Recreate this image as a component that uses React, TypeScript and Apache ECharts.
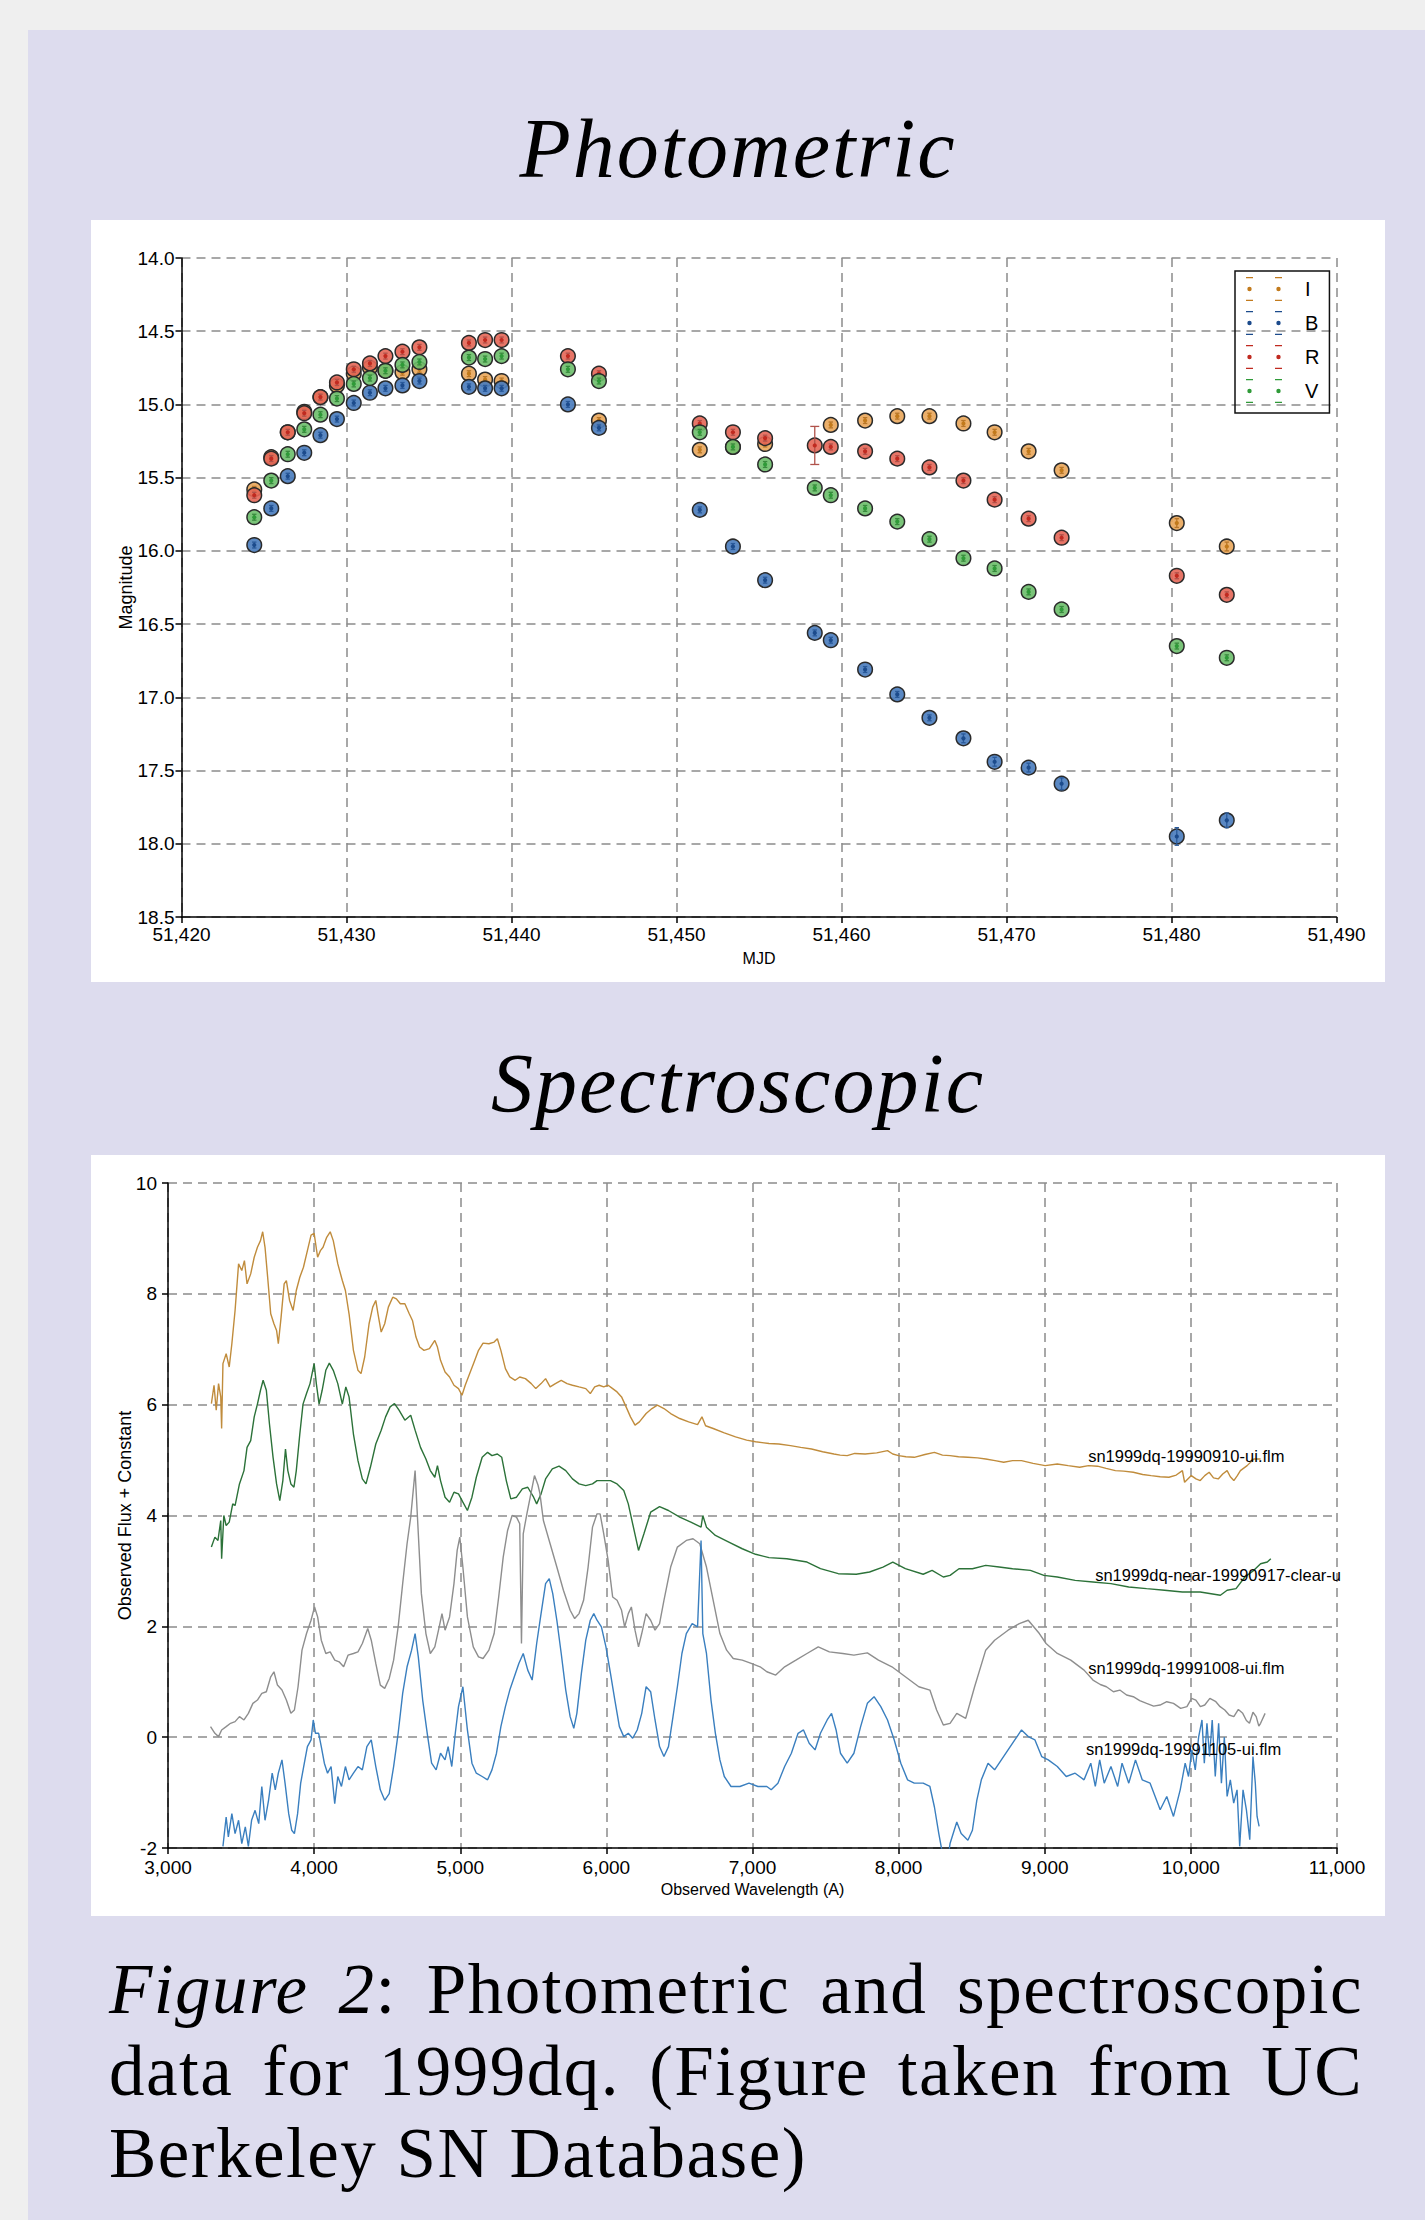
import React, { useEffect, useRef } from 'react';
import * as echarts from 'echarts';

const FONT = '"Liberation Sans", Arial, Helvetica, sans-serif';
const SERIF = '"Liberation Serif", "Times New Roman", Times, serif';

// ---------------- Photometric data ----------------
const BANDS = ['I', 'B', 'R', 'V'];

const I_MJD = [51424.41, 51425.44, 51426.44, 51427.44, 51428.42, 51429.42, 51430.44, 51431.42, 51432.36, 51433.39, 51434.42, 51437.42, 51438.4, 51439.4, 51445.3, 51451.41, 51453.42, 51455.37, 51459.35, 51461.43, 51463.38, 51465.33, 51467.39, 51469.28, 51471.34, 51473.34, 51480.32, 51483.35];
const I_MAG = [15.58, 15.36, 15.19, 15.05, 14.95, 14.87, 14.79, 14.75, 14.77, 14.78, 14.76, 14.79, 14.83, 14.84, 15.11, 15.31, 15.29, 15.27, 15.14, 15.11, 15.08, 15.08, 15.13, 15.19, 15.32, 15.45, 15.81, 15.97];
const I_ERR = [0.02, 0.02, 0.02, 0.02, 0.02, 0.02, 0.02, 0.02, 0.02, 0.02, 0.02, 0.02, 0.02, 0.02, 0.02, 0.02, 0.02, 0.02, 0.02, 0.02, 0.02, 0.02, 0.02, 0.02, 0.02, 0.02, 0.03, 0.03];

const B_MJD = [51424.41, 51425.44, 51426.44, 51427.44, 51428.42, 51429.42, 51430.44, 51431.42, 51432.36, 51433.39, 51434.42, 51437.42, 51438.4, 51439.4, 51443.42, 51445.3, 51451.41, 51453.42, 51455.37, 51458.38, 51459.35, 51461.43, 51463.38, 51465.33, 51467.39, 51469.28, 51471.34, 51473.34, 51480.32, 51483.35];
const B_MAG = [15.96, 15.71, 15.49, 15.33, 15.21, 15.1, 14.99, 14.92, 14.89, 14.87, 14.84, 14.88, 14.89, 14.89, 15.0, 15.16, 15.72, 15.97, 16.2, 16.56, 16.61, 16.81, 16.98, 17.14, 17.28, 17.44, 17.48, 17.59, 17.95, 17.84];
const B_ERR = [0.02, 0.02, 0.02, 0.02, 0.02, 0.02, 0.02, 0.02, 0.02, 0.02, 0.02, 0.02, 0.02, 0.02, 0.02, 0.02, 0.02, 0.02, 0.02, 0.02, 0.02, 0.02, 0.02, 0.02, 0.03, 0.03, 0.03, 0.04, 0.06, 0.05];

const R_MJD = [51424.41, 51425.44, 51426.44, 51427.44, 51428.42, 51429.42, 51430.44, 51431.42, 51432.36, 51433.39, 51434.42, 51437.42, 51438.4, 51439.4, 51443.42, 51445.3, 51451.41, 51453.42, 51455.37, 51458.38, 51459.35, 51461.43, 51463.38, 51465.33, 51467.39, 51469.28, 51471.34, 51473.34, 51480.32, 51483.35];
const R_MAG = [15.62, 15.37, 15.19, 15.06, 14.95, 14.85, 14.76, 14.72, 14.67, 14.64, 14.61, 14.58, 14.56, 14.56, 14.67, 14.79, 15.13, 15.19, 15.23, 15.28, 15.29, 15.32, 15.37, 15.43, 15.52, 15.65, 15.78, 15.91, 16.17, 16.3];
const R_ERR = [0.02, 0.02, 0.02, 0.02, 0.02, 0.02, 0.02, 0.02, 0.02, 0.02, 0.02, 0.02, 0.02, 0.02, 0.02, 0.02, 0.02, 0.02, 0.02, 0.13, 0.02, 0.02, 0.02, 0.02, 0.02, 0.02, 0.02, 0.02, 0.02, 0.02];

const V_MJD = [51424.41, 51425.44, 51426.44, 51427.44, 51428.42, 51429.42, 51430.44, 51431.42, 51432.36, 51433.39, 51434.42, 51437.42, 51438.4, 51439.4, 51443.42, 51445.3, 51451.41, 51453.42, 51455.37, 51458.38, 51459.35, 51461.43, 51463.38, 51465.33, 51467.39, 51469.28, 51471.34, 51473.34, 51480.32, 51483.35];
const V_MAG = [15.77, 15.52, 15.34, 15.17, 15.07, 14.96, 14.86, 14.82, 14.77, 14.73, 14.71, 14.68, 14.69, 14.67, 14.76, 14.84, 15.19, 15.29, 15.41, 15.57, 15.62, 15.71, 15.8, 15.92, 16.05, 16.12, 16.28, 16.4, 16.65, 16.73];
const V_ERR = [0.02, 0.02, 0.02, 0.02, 0.02, 0.02, 0.02, 0.02, 0.02, 0.02, 0.02, 0.02, 0.02, 0.02, 0.02, 0.02, 0.02, 0.02, 0.02, 0.02, 0.02, 0.02, 0.02, 0.02, 0.02, 0.02, 0.02, 0.02, 0.02, 0.02];

const MJD_TICKS = { min: 51420, max: 51490, interval: 10 };
const MAG_TICKS = { min: 14, max: 18.5, interval: 0.5 };

// ---------------- Spectroscopic data ----------------
const SPEC_NAMES = ['sn1999dq-19990910-ui.flm', 'sn1999dq-near-19990917-clear-u', 'sn1999dq-19991008-ui.flm', 'sn1999dq-19991105-ui.flm'];
const SPEC_LABEL_AT: [number, number][] = [[9297, 5.07], [9345, 2.93], [9297, 1.25], [9283, -0.21]];

const SPEC_0910: [number, number][] = [[3297,6.02],[3315,6.35],[3330,5.9],[3346,6.38],[3361,6.14],[3367,5.57],[3376,6.74],[3398,6.92],[3419,6.68],[3437,7.1],[3459,7.7],[3483,8.54],[3505,8.42],[3523,8.6],[3541,8.18],[3566,8.36],[3590,8.66],[3612,8.84],[3633,8.96],[3648,9.12],[3664,8.84],[3682,8.3],[3703,7.64],[3725,7.46],[3743,7.34],[3755,7.1],[3774,7.58],[3795,8.18],[3810,8.24],[3832,7.88],[3856,7.7],[3878,8.06],[3902,8.3],[3927,8.48],[3954,8.78],[3979,9.06],[4000,9.09],[4024,8.66],[4043,8.78],[4061,8.84],[4086,9.02],[4110,9.12],[4131,8.96],[4162,8.54],[4193,8.24],[4214,8.06],[4239,7.64],[4269,6.98],[4300,6.62],[4321,6.56],[4346,6.86],[4376,7.46],[4401,7.76],[4422,7.88],[4437,7.64],[4459,7.31],[4483,7.46],[4508,7.76],[4538,7.94],[4563,7.91],[4590,7.82],[4621,7.82],[4651,7.64],[4673,7.52],[4697,7.22],[4722,7.04],[4752,6.98],[4789,7.01],[4826,7.16],[4844,7.04],[4865,6.8],[4896,6.59],[4927,6.5],[4957,6.35],[4988,6.29],[5012,6.17],[5034,6.35],[5064,6.56],[5095,6.77],[5125,6.98],[5156,7.11],[5196,7.1],[5232,7.13],[5254,7.19],[5278,6.98],[5309,6.65],[5339,6.5],[5376,6.44],[5407,6.5],[5446,6.47],[5486,6.38],[5517,6.29],[5553,6.38],[5584,6.47],[5615,6.32],[5651,6.38],[5691,6.44],[5731,6.38],[5768,6.35],[5813,6.32],[5859,6.29],[5890,6.2],[5920,6.32],[5951,6.35],[5982,6.32],[6012,6.35],[6043,6.29],[6073,6.23],[6104,6.14],[6135,5.96],[6165,5.78],[6196,5.63],[6226,5.69],[6272,5.84],[6312,5.93],[6349,5.99],[6394,5.93],[6440,5.84],[6502,5.75],[6563,5.69],[6624,5.64],[6654,5.78],[6679,5.62],[6731,5.57],[6807,5.49],[6884,5.42],[6960,5.36],[7021,5.33],[7113,5.3],[7180,5.29],[7260,5.26],[7330,5.23],[7404,5.2],[7480,5.15],[7557,5.11],[7600,5.09],[7648,5.08],[7700,5.12],[7771,5.11],[7850,5.13],[7924,5.17],[7960,5.11],[8000,5.08],[8050,5.06],[8107,5.05],[8180,5.1],[8245,5.14],[8300,5.09],[8352,5.08],[8410,5.06],[8474,5.05],[8540,5.04],[8596,5.02],[8660,4.99],[8719,4.96],[8780,4.99],[8841,4.99],[8920,4.94],[9003,4.9],[9086,4.93],[9160,4.9],[9239,4.87],[9300,4.9],[9361,4.89],[9420,4.85],[9483,4.81],[9540,4.8],[9606,4.78],[9670,4.74],[9728,4.72],[9790,4.7],[9850,4.69],[9900,4.73],[9942,4.81],[9957,4.6],[10003,4.72],[10035,4.66],[10064,4.63],[10095,4.72],[10125,4.78],[10155,4.68],[10187,4.66],[10218,4.75],[10248,4.81],[10270,4.7],[10294,4.63],[10318,4.72],[10339,4.81],[10385,4.9],[10431,5.02],[10477,5.02]];

const SPEC_0917: [number, number][] = [[3297,3.43],[3321,3.61],[3342,3.55],[3361,3.91],[3367,3.22],[3382,4.0],[3398,3.82],[3419,3.88],[3443,4.21],[3459,4.18],[3489,4.57],[3520,4.81],[3541,5.23],[3566,5.35],[3590,5.78],[3612,6.01],[3633,6.26],[3651,6.44],[3673,6.26],[3694,5.66],[3719,5.05],[3743,4.57],[3765,4.27],[3786,4.63],[3804,5.2],[3820,4.81],[3841,4.57],[3862,4.51],[3878,4.81],[3902,5.47],[3924,6.01],[3948,6.2],[3972,6.38],[4000,6.74],[4015,6.38],[4034,6.01],[4055,6.26],[4080,6.62],[4104,6.75],[4131,6.62],[4162,6.38],[4193,6.01],[4217,6.32],[4239,6.14],[4269,5.47],[4300,4.99],[4330,4.66],[4355,4.57],[4385,4.87],[4422,5.29],[4459,5.54],[4489,5.78],[4520,5.96],[4550,6.02],[4581,5.9],[4621,5.72],[4661,5.81],[4691,5.54],[4728,5.23],[4765,5.02],[4795,4.81],[4826,4.69],[4844,4.9],[4865,4.63],[4896,4.33],[4927,4.24],[4957,4.42],[4988,4.39],[5018,4.24],[5049,4.09],[5080,4.33],[5110,4.69],[5150,5.05],[5187,5.14],[5217,5.08],[5254,5.11],[5284,5.05],[5315,4.63],[5346,4.3],[5385,4.33],[5425,4.48],[5462,4.51],[5502,4.33],[5523,4.21],[5553,4.39],[5584,4.66],[5630,4.84],[5676,4.89],[5722,4.81],[5768,4.66],[5813,4.57],[5859,4.54],[5905,4.57],[5936,4.63],[5982,4.63],[6028,4.63],[6073,4.57],[6119,4.45],[6150,4.21],[6180,3.85],[6220,3.37],[6257,3.67],[6303,4.06],[6364,4.16],[6425,4.09],[6502,3.97],[6578,3.88],[6648,3.79],[6660,4.0],[6685,3.79],[6746,3.64],[6838,3.52],[6930,3.4],[7021,3.3],[7113,3.24],[7235,3.22],[7373,3.16],[7465,3.04],[7587,2.95],[7710,2.94],[7801,2.98],[7893,3.07],[7960,3.16],[8046,3.04],[8168,2.94],[8229,3.01],[8306,2.89],[8352,2.92],[8413,3.04],[8505,3.04],[8596,3.1],[8688,3.07],[8780,3.04],[8902,3.01],[8994,2.92],[9086,2.89],[9208,2.83],[9330,2.8],[9453,2.77],[9575,2.71],[9697,2.68],[9820,2.65],[9942,2.62],[10064,2.62],[10202,2.56],[10248,2.65],[10309,2.68],[10370,2.89],[10431,3.01],[10477,3.13],[10523,3.16],[10547,3.22]];

const SPEC_1008: [number, number][] = [[3291,0.19],[3321,0.07],[3346,0.01],[3367,0.13],[3398,0.19],[3428,0.25],[3459,0.28],[3489,0.37],[3520,0.31],[3550,0.43],[3581,0.61],[3612,0.67],[3642,0.79],[3673,0.82],[3703,1.09],[3725,1.18],[3749,0.94],[3780,0.85],[3810,0.67],[3841,0.43],[3865,0.49],[3890,0.91],[3917,1.57],[3948,1.87],[3979,2.11],[4003,2.35],[4024,2.17],[4049,1.75],[4080,1.51],[4110,1.54],[4141,1.39],[4171,1.36],[4202,1.27],[4232,1.48],[4269,1.51],[4300,1.54],[4330,1.69],[4367,1.96],[4391,1.75],[4422,1.33],[4453,0.94],[4483,0.88],[4514,1.06],[4544,1.39],[4575,1.99],[4606,2.77],[4636,3.49],[4661,3.97],[4691,4.81],[4713,3.67],[4734,2.59],[4765,1.87],[4795,1.51],[4826,1.63],[4856,1.99],[4875,2.23],[4896,1.93],[4927,2.17],[4957,2.77],[4979,3.37],[4997,3.61],[5018,3.07],[5049,2.17],[5089,1.63],[5125,1.45],[5156,1.42],[5196,1.57],[5232,1.87],[5263,2.53],[5294,3.25],[5324,3.73],[5355,4.0],[5385,3.97],[5407,3.85],[5419,1.69],[5431,3.67],[5456,4.03],[5508,4.72],[5532,4.55],[5545,4.4],[5569,3.91],[5615,3.49],[5661,3.07],[5706,2.65],[5752,2.29],[5783,2.14],[5813,2.23],[5844,2.47],[5875,3.07],[5905,3.79],[5936,4.03],[5957,4.03],[5982,3.67],[6012,3.19],[6043,2.53],[6073,2.47],[6104,2.29],[6125,1.99],[6150,2.23],[6171,2.35],[6196,1.93],[6220,1.63],[6242,1.87],[6272,2.23],[6303,2.11],[6333,1.93],[6364,2.05],[6394,2.47],[6440,3.07],[6486,3.43],[6547,3.55],[6593,3.58],[6639,3.49],[6685,3.07],[6731,2.47],[6777,1.87],[6823,1.57],[6868,1.42],[6930,1.39],[6991,1.33],[7052,1.27],[7098,1.18],[7159,1.12],[7220,1.27],[7297,1.39],[7373,1.51],[7450,1.63],[7526,1.54],[7618,1.51],[7694,1.48],[7786,1.52],[7862,1.39],[7954,1.27],[8046,1.09],[8138,0.91],[8214,0.85],[8260,0.49],[8306,0.22],[8352,0.25],[8398,0.43],[8459,0.34],[8520,0.91],[8596,1.57],[8657,1.75],[8749,1.93],[8826,2.05],[8887,2.11],[8963,1.87],[9009,1.69],[9086,1.51],[9178,1.39],[9269,1.21],[9330,1.03],[9380,0.95],[9422,0.91],[9470,0.82],[9514,0.85],[9560,0.76],[9606,0.73],[9650,0.66],[9697,0.61],[9745,0.56],[9789,0.58],[9835,0.64],[9881,0.61],[9930,0.52],[9973,0.55],[10005,0.7],[10034,0.67],[10065,0.55],[10095,0.58],[10130,0.7],[10171,0.64],[10200,0.55],[10232,0.49],[10262,0.4],[10294,0.37],[10325,0.5],[10355,0.43],[10380,0.3],[10401,0.25],[10425,0.45],[10447,0.37],[10465,0.2],[10477,0.25],[10508,0.43]];

const SPEC_1105: [number, number][] = [[3376,-1.97],[3398,-1.44],[3413,-1.8],[3437,-1.38],[3459,-1.74],[3483,-1.5],[3505,-1.92],[3529,-1.62],[3550,-1.97],[3572,-1.5],[3596,-1.32],[3621,-1.56],[3642,-0.89],[3664,-1.5],[3688,-1.14],[3713,-0.65],[3734,-0.95],[3755,-0.65],[3780,-0.41],[3801,-0.83],[3826,-1.38],[3847,-1.68],[3865,-1.74],[3887,-1.38],[3908,-0.83],[3933,-0.47],[3954,-0.17],[3979,-0.05],[3994,0.31],[4009,0.07],[4031,0.07],[4049,-0.17],[4070,-0.47],[4092,-0.65],[4116,-0.53],[4141,-1.2],[4162,-0.71],[4187,-0.89],[4214,-0.53],[4239,-0.77],[4269,-0.65],[4300,-0.53],[4330,-0.59],[4361,-0.17],[4391,-0.05],[4422,-0.53],[4453,-0.95],[4483,-1.14],[4514,-1.02],[4544,-0.53],[4575,0.07],[4606,0.79],[4636,1.27],[4667,1.57],[4691,1.87],[4713,1.45],[4743,0.67],[4774,0.07],[4804,-0.47],[4835,-0.59],[4865,-0.29],[4896,-0.41],[4917,-0.17],[4942,-0.53],[4966,0.07],[4988,0.55],[5018,0.91],[5049,0.13],[5080,-0.47],[5110,-0.65],[5150,-0.71],[5187,-0.77],[5217,-0.59],[5248,-0.29],[5278,0.19],[5309,0.55],[5339,0.85],[5370,1.09],[5401,1.33],[5431,1.51],[5462,1.21],[5492,1.03],[5523,1.69],[5553,2.23],[5584,2.77],[5609,2.86],[5633,2.59],[5661,2.11],[5691,1.51],[5722,0.85],[5752,0.37],[5777,0.16],[5798,0.43],[5829,1.15],[5859,1.75],[5890,2.11],[5914,2.23],[5936,2.11],[5966,1.99],[5997,1.63],[6028,1.15],[6058,0.67],[6089,0.19],[6119,0.01],[6150,0.07],[6180,-0.02],[6211,0.13],[6242,0.43],[6272,0.91],[6303,0.82],[6333,0.31],[6364,-0.17],[6394,-0.35],[6425,-0.17],[6456,0.37],[6486,0.91],[6517,1.51],[6547,1.87],[6587,2.05],[6624,1.99],[6648,3.55],[6660,1.87],[6685,1.51],[6716,0.67],[6746,0.07],[6777,-0.41],[6807,-0.71],[6853,-0.89],[6914,-0.89],[6976,-0.83],[7037,-0.89],[7098,-0.89],[7128,-0.95],[7174,-0.83],[7220,-0.53],[7266,-0.29],[7312,0.07],[7349,0.13],[7388,-0.11],[7428,-0.23],[7465,0.07],[7511,0.31],[7541,0.43],[7572,0.13],[7602,-0.29],[7648,-0.47],[7694,-0.29],[7740,0.19],[7786,0.61],[7832,0.73],[7878,0.55],[7924,0.31],[7970,-0.05],[8015,-0.47],[8061,-0.77],[8107,-0.83],[8168,-0.83],[8214,-0.89],[8245,-1.26],[8275,-1.74],[8300,-2.1],[8330,-2.3],[8352,-1.92],[8398,-1.53],[8428,-1.74],[8474,-1.86],[8505,-1.68],[8535,-1.14],[8566,-0.77],[8612,-0.47],[8657,-0.59],[8703,-0.41],[8749,-0.23],[8795,-0.05],[8841,0.13],[8887,0.01],[8933,-0.05],[8979,-0.35],[9024,-0.41],[9086,-0.53],[9147,-0.71],[9208,-0.65],[9269,-0.77],[9315,-0.47],[9346,-0.89],[9376,-0.41],[9407,-0.83],[9453,-0.53],[9499,-0.89],[9529,-0.47],[9575,-0.83],[9621,-0.41],[9667,-0.77],[9721,-0.83],[9790,-1.31],[9835,-1.07],[9881,-1.43],[9927,-0.95],[9961,-0.47],[9984,-0.71],[10007,-0.23],[10030,-0.59],[10053,0.0],[10076,0.31],[10092,-0.47],[10110,0.25],[10128,-0.35],[10146,0.31],[10167,-0.71],[10190,0.25],[10209,-0.83],[10229,0.0],[10248,-1.07],[10270,-0.77],[10293,-1.19],[10316,-0.95],[10334,-1.97],[10357,-0.95],[10380,-1.31],[10403,-1.85],[10425,-0.35],[10441,-0.83],[10453,-1.43],[10467,-1.61]];

const WAVE_TICKS = { min: 3000, max: 11000, interval: 1000 };
const FLUX_TICKS = { min: -2, max: 10, interval: 2 };

// ---------------- Styles ----------------
const BAND_FILL: Record<string, string> = {
  I: 'rgba(233,166,90,0.9)',
  B: 'rgba(76,126,190,0.92)',
  R: 'rgba(228,102,86,0.9)',
  V: 'rgba(108,190,106,0.9)',
};
const BAND_DARK: Record<string, string> = { I: '#c27a1c', B: '#1c4b8c', R: '#c02a20', V: '#2f9a38' };
const BAND_BAR: Record<string, string> = { I: '#b8772a', B: '#2a5a9a', R: '#b0524a', V: '#3a8a3e' };
const SPEC_COLORS = ['#c08c3c', '#2c7239', '#8e8e8e', '#3a7fbf'];

const LEGEND_ICON =
  'path://M0 0H7V1.2H0Z M0 22.8H7V24H0Z M1.3 12A2.2 2.2 0 1 1 5.7 12A2.2 2.2 0 1 1 1.3 12Z ' +
  'M29 0H36V1.2H29Z M29 22.8H36V24H29Z M30.3 12A2.2 2.2 0 1 1 34.7 12A2.2 2.2 0 1 1 30.3 12Z';

const GRID_DASH = { type: [9, 6] as any, color: '#8c8c8c', width: 1.5 };

function bandSeries(name: string, mjd: number[], mag: number[], err: number[]) {
  const fill = BAND_FILL[name];
  const dark = BAND_DARK[name];
  const bar = BAND_BAR[name];
  return {
    type: 'custom',
    name,
    itemStyle: { color: dark },
    encode: { x: 0, y: 1 },
    data: mjd.map((m, i) => [m, mag[i], err[i]]),
    renderItem: (_params: any, api: any) => {
      const x = api.value(0);
      const y = api.value(1);
      const e = api.value(2);
      const p = api.coord([x, y]);
      const yt = api.coord([x, y - e])[1];
      const yb = api.coord([x, y + e])[1];
      const cw = e > 0.08 ? 4.5 : 2.2;
      return {
        type: 'group',
        children: [
          { type: 'circle', shape: { cx: p[0], cy: p[1], r: 7.3 }, style: { fill, stroke: '#2a2a2a', lineWidth: 1.5 } },
          { type: 'line', shape: { x1: p[0], y1: yt, x2: p[0], y2: yb }, style: { stroke: bar, lineWidth: 1.3 } },
          { type: 'line', shape: { x1: p[0] - cw, y1: yt, x2: p[0] + cw, y2: yt }, style: { stroke: bar, lineWidth: 1.3 } },
          { type: 'line', shape: { x1: p[0] - cw, y1: yb, x2: p[0] + cw, y2: yb }, style: { stroke: bar, lineWidth: 1.3 } },
          { type: 'circle', shape: { cx: p[0], cy: p[1], r: 2.1 }, style: { fill: dark } },
        ],
      };
    },
  };
}

const commaFmt = (v: number) => v.toLocaleString('en-US');

function photoOption(): any {
  return {
    animation: false,
    backgroundColor: '#ffffff',
    textStyle: { fontFamily: FONT },
    grid: { left: 90.5, right: 48.5, top: 38, bottom: 65 },
    legend: {
      orient: 'vertical',
      left: 1144,
      top: 51,
      data: BANDS.map((b) => ({ name: b, icon: LEGEND_ICON })),
      itemWidth: 36,
      itemHeight: 24,
      itemGap: 10,
      padding: [6, 10, 10, 11],
      borderColor: '#111',
      borderWidth: 1.5,
      selectedMode: false,
      textStyle: { fontSize: 20, color: '#000', fontFamily: FONT, padding: [0, 0, 0, 18] },
    },
    xAxis: {
      type: 'value',
      ...MJD_TICKS,
      name: 'MJD',
      nameLocation: 'middle',
      nameGap: 33,
      nameMoveOverlap: false,
      nameTextStyle: { fontSize: 16, color: '#000', fontFamily: FONT },
      axisLine: { show: true, onZero: false, lineStyle: { color: '#000', width: 1.5 } },
      axisTick: { show: true, length: 6, lineStyle: { color: '#000', width: 1.5 } },
      axisLabel: { formatter: commaFmt, fontSize: 19, color: '#000', margin: 8, fontFamily: FONT },
      splitLine: { show: true, lineStyle: GRID_DASH },
    },
    yAxis: {
      type: 'value',
      inverse: true,
      ...MAG_TICKS,
      name: 'Magnitude',
      nameLocation: 'middle',
      nameRotate: 90,
      nameGap: 47,
      nameMoveOverlap: false,
      nameTextStyle: { fontSize: 18, color: '#000', fontFamily: FONT },
      axisLine: { show: true, onZero: false, lineStyle: { color: '#000', width: 1.5 } },
      axisTick: { show: true, length: 6, lineStyle: { color: '#000', width: 1.5 } },
      axisLabel: { formatter: (v: number) => v.toFixed(1), fontSize: 19, color: '#000', margin: 7, fontFamily: FONT },
      splitLine: { show: true, lineStyle: GRID_DASH },
    },
    series: [
      bandSeries('I', I_MJD, I_MAG, I_ERR),
      bandSeries('B', B_MJD, B_MAG, B_ERR),
      bandSeries('R', R_MJD, R_MAG, R_ERR),
      bandSeries('V', V_MJD, V_MAG, V_ERR),
    ],
  };
}

function specOption(): any {
  const spectra = [SPEC_0910, SPEC_0917, SPEC_1008, SPEC_1105];
  return {
    animation: false,
    backgroundColor: '#ffffff',
    textStyle: { fontFamily: FONT },
    grid: { left: 77, right: 48, top: 28, bottom: 68 },
    xAxis: {
      type: 'value',
      ...WAVE_TICKS,
      name: 'Observed Wavelength (A)',
      nameLocation: 'middle',
      nameGap: 33,
      nameMoveOverlap: false,
      nameTextStyle: { fontSize: 16, color: '#000', fontFamily: FONT },
      axisLine: { show: true, onZero: false, lineStyle: { color: '#000', width: 1.5 } },
      axisTick: { show: true, length: 6, lineStyle: { color: '#000', width: 1.5 } },
      axisLabel: { formatter: commaFmt, fontSize: 19, color: '#000', margin: 10, fontFamily: FONT },
      splitLine: { show: true, lineStyle: GRID_DASH },
    },
    yAxis: {
      type: 'value',
      ...FLUX_TICKS,
      name: 'Observed Flux + Constant',
      nameLocation: 'middle',
      nameRotate: 90,
      nameGap: 34,
      nameMoveOverlap: false,
      nameTextStyle: { fontSize: 18, color: '#000', fontFamily: FONT },
      axisLine: { show: true, onZero: false, lineStyle: { color: '#000', width: 1.5 } },
      axisTick: { show: true, length: 6, lineStyle: { color: '#000', width: 1.5 } },
      axisLabel: { formatter: (v: number) => String(v), fontSize: 19, color: '#000', margin: 11, fontFamily: FONT },
      splitLine: { show: true, lineStyle: GRID_DASH },
    },
    series: spectra.map((d, i) => ({
      type: 'line',
      name: SPEC_NAMES[i],
      data: d,
      showSymbol: false,
      symbol: 'none',
      clip: true,
      silent: true,
      lineStyle: { color: SPEC_COLORS[i], width: 1.4 },
      itemStyle: { color: SPEC_COLORS[i] },
      markPoint: {
        symbol: 'circle',
        symbolSize: 0,
        silent: true,
        data: [{ coord: SPEC_LABEL_AT[i], name: SPEC_NAMES[i] }],
        label: {
          show: true,
          position: 'right',
          distance: 0,
          formatter: SPEC_NAMES[i],
          color: '#000',
          fontSize: 16.5,
          fontFamily: FONT,
        },
      },
    })),
  };
}

export default function App() {
  const ref1 = useRef<HTMLDivElement>(null);
  const ref2 = useRef<HTMLDivElement>(null);

  useEffect(() => {
    const c1 = echarts.init(ref1.current as HTMLDivElement, null, { renderer: 'svg' });
    c1.setOption(photoOption());
    const c2 = echarts.init(ref2.current as HTMLDivElement, null, { renderer: 'svg' });
    c2.setOption(specOption());
    return () => {
      c1.dispose();
      c2.dispose();
    };
  }, []);

  const titleStyle: React.CSSProperties = {
    position: 'absolute',
    left: 91,
    width: 1294,
    textAlign: 'center',
    fontFamily: SERIF,
    fontStyle: 'italic',
    fontSize: 84,
    lineHeight: '84px',
    letterSpacing: 2,
    color: '#000',
    whiteSpace: 'nowrap',
  };
  const capLine: React.CSSProperties = {
    height: 82,
    lineHeight: '82px',
    textAlign: 'justify',
    textAlignLast: 'justify' as any,
  };

  return (
    <div style={{ position: 'absolute', left: 0, top: 0, width: 1425, height: 2220, background: '#efefef', overflow: 'hidden' }}>
      <div style={{ position: 'absolute', left: 28, top: 30, width: 1397, height: 2190, background: '#dddcee' }} />
      <div style={{ ...titleStyle, top: 107 }}>Photometric</div>
      <div ref={ref1} style={{ position: 'absolute', left: 91, top: 220, width: 1294, height: 762, background: '#fff' }} />
      <div style={{ ...titleStyle, top: 1042 }}>Spectroscopic</div>
      <div ref={ref2} style={{ position: 'absolute', left: 91, top: 1155, width: 1294, height: 761, background: '#fff' }} />
      <div
        style={{
          position: 'absolute',
          left: 109,
          top: 1948,
          width: 1254,
          fontFamily: SERIF,
          fontSize: 71,
          letterSpacing: 1.5,
          color: '#000',
        }}
      >
        <div style={capLine}>
          <i>Figure 2</i>: Photometric and spectroscopic
        </div>
        <div style={capLine}>data for 1999dq. (Figure taken from UC</div>
        <div style={{ ...capLine, textAlign: 'left', textAlignLast: 'left' as any, whiteSpace: 'nowrap' }}>Berkeley SN Database)</div>
      </div>
    </div>
  );
}
